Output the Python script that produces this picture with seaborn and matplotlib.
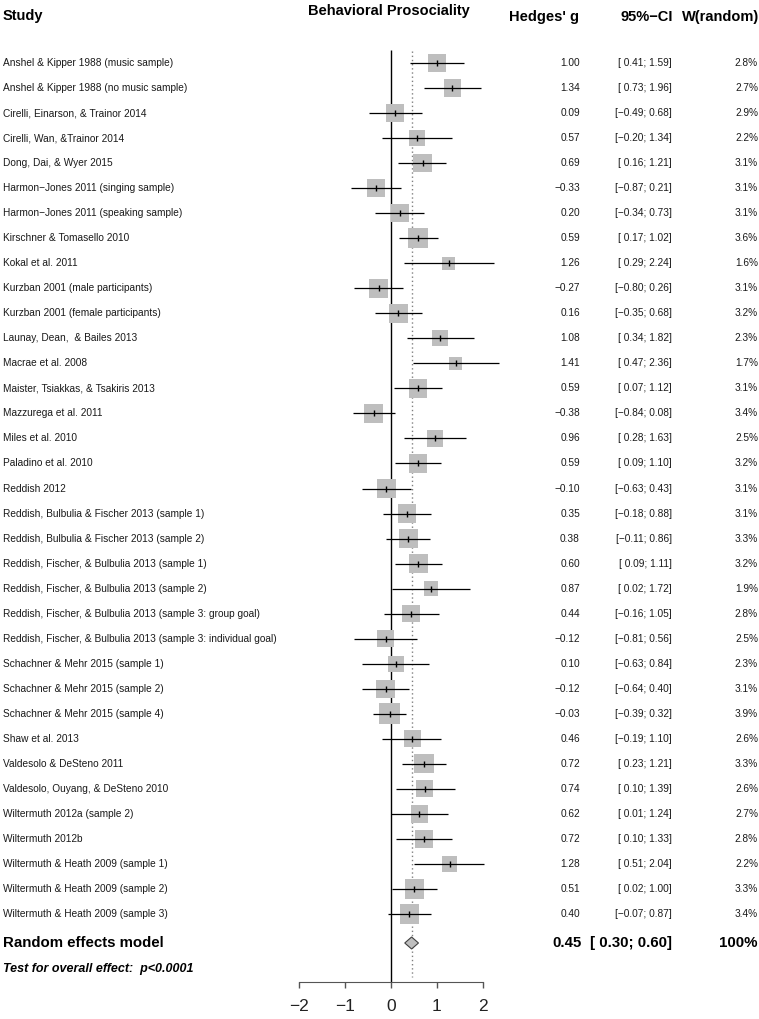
import matplotlib
matplotlib.use("Agg")
import matplotlib.pyplot as plt
import matplotlib.transforms as mtransforms
import seaborn as sns
import numpy as np
import pandas as pd

studies = [
    "Anshel & Kipper 1988 (music sample)",
    "Anshel & Kipper 1988 (no music sample)",
    "Cirelli, Einarson, & Trainor 2014",
    "Cirelli, Wan, &Trainor 2014",
    "Dong, Dai, & Wyer 2015",
    "Harmon-Jones 2011 (singing sample)",
    "Harmon-Jones 2011 (speaking sample)",
    "Kirschner & Tomasello 2010",
    "Kokal et al. 2011",
    "Kurzban 2001 (male participants)",
    "Kurzban 2001 (female participants)",
    "Launay, Dean,  & Bailes 2013",
    "Macrae et al. 2008",
    "Maister, Tsiakkas, & Tsakiris 2013",
    "Mazzurega et al. 2011",
    "Miles et al. 2010",
    "Paladino et al. 2010",
    "Reddish 2012",
    "Reddish, Bulbulia & Fischer 2013 (sample 1)",
    "Reddish, Bulbulia & Fischer 2013 (sample 2)",
    "Reddish, Fischer, & Bulbulia 2013 (sample 1)",
    "Reddish, Fischer, & Bulbulia 2013 (sample 2)",
    "Reddish, Fischer, & Bulbulia 2013 (sample 3: group goal)",
    "Reddish, Fischer, & Bulbulia 2013 (sample 3: individual goal)",
    "Schachner & Mehr 2015 (sample 1)",
    "Schachner & Mehr 2015 (sample 2)",
    "Schachner & Mehr 2015 (sample 4)",
    "Shaw et al. 2013",
    "Valdesolo & DeSteno 2011",
    "Valdesolo, Ouyang, & DeSteno 2010",
    "Wiltermuth 2012a (sample 2)",
    "Wiltermuth 2012b",
    "Wiltermuth & Heath 2009 (sample 1)",
    "Wiltermuth & Heath 2009 (sample 2)",
    "Wiltermuth & Heath 2009 (sample 3)",
]
hedges_g = [1.00, 1.34, 0.09, 0.57, 0.69, -0.33, 0.20, 0.59, 1.26, -0.27, 0.16, 1.08,
            1.41, 0.59, -0.38, 0.96, 0.59, -0.10, 0.35, 0.38, 0.60, 0.87, 0.44, -0.12,
            0.10, -0.12, -0.03, 0.46, 0.72, 0.74, 0.62, 0.72, 1.28, 0.51, 0.40]
ci_lower = [0.41, 0.73, -0.49, -0.20, 0.16, -0.87, -0.34, 0.17, 0.29, -0.80, -0.35, 0.34,
            0.47, 0.07, -0.84, 0.28, 0.09, -0.63, -0.18, -0.11, 0.09, 0.02, -0.16, -0.81,
            -0.63, -0.64, -0.39, -0.19, 0.23, 0.10, 0.01, 0.10, 0.51, 0.02, -0.07]
ci_upper = [1.59, 1.96, 0.68, 1.34, 1.21, 0.21, 0.73, 1.02, 2.24, 0.26, 0.68, 1.82,
            2.36, 1.12, 0.08, 1.63, 1.10, 0.43, 0.88, 0.86, 1.11, 1.72, 1.05, 0.56,
            0.84, 0.40, 0.32, 1.10, 1.21, 1.39, 1.24, 1.33, 2.04, 1.00, 0.87]
weight = [2.8, 2.7, 2.9, 2.2, 3.1, 3.1, 3.1, 3.6, 1.6, 3.1, 3.2, 2.3, 1.7, 3.1, 3.4, 2.5,
          3.2, 3.1, 3.1, 3.3, 3.2, 1.9, 2.8, 2.5, 2.3, 3.1, 3.9, 2.6, 3.3, 2.6, 2.7, 2.8,
          2.2, 3.3, 3.4]
summary_g = 0.45
summary_lower = 0.30
summary_upper = 0.60
xticks = [-2, -1, 0, 1, 2]

def m(s):
    return s.replace("-", "\u2212")

df = pd.DataFrame({"study": studies, "g": hedges_g, "lo": ci_lower, "hi": ci_upper,
                   "w": weight})
df["row"] = np.arange(len(df))

W, H = 759, 1019
fig = plt.figure(figsize=(W / 100, H / 100), dpi=100)
plt.rcParams["font.family"] = ["Liberation Sans", "DejaVu Sans"]

PX_ZERO = 391.0
PX_UNIT = 45.8
ROW0 = 63.0
ROWSTEP = 25.03
AX_TOP, AX_BOT = 40, 982
AX_L, AX_R = 280, 500

ax = fig.add_axes([AX_L / W, 1 - AX_BOT / H, (AX_R - AX_L) / W, (AX_BOT - AX_TOP) / H])
ax.set_xlim((AX_L - PX_ZERO) / PX_UNIT, (AX_R - PX_ZERO) / PX_UNIT)
ylo = (AX_BOT - ROW0) / ROWSTEP
yhi = (AX_TOP - ROW0) / ROWSTEP
ax.set_ylim(ylo, yhi)

def prow(py):
    return (py - ROW0) / ROWSTEP

# reference lines
ax.vlines(0, prow(50), ylo, color="black", lw=1.0, zorder=1)
ax.vlines(summary_g, prow(51), prow(977), color="#808080", lw=1.0,
          linestyles=(0, (1, 2)), zorder=1)

# squares (area proportional to weight)
k = 57.2
sns.scatterplot(data=df, x="g", y="row", size="w",
                sizes=(k * df["w"].min(), k * df["w"].max()),
                marker="s", color="#BEBEBE", linewidth=0, legend=False, ax=ax, zorder=2)
ax.hlines(df["row"], df["lo"], df["hi"], color="black", lw=0.9, zorder=3)
ax.scatter(df["g"], df["row"], marker="|", s=20, color="black", linewidths=1.0, zorder=4)

# summary diamond
srow = prow(943)
hh = 6 / ROWSTEP
ax.fill([summary_lower, summary_g, summary_upper, summary_g],
        [srow, srow - hh, srow, srow + hh], facecolor="#BEBEBE", edgecolor="#404040",
        lw=0.8, zorder=3)

for s in ["left", "top", "right"]:
    ax.spines[s].set_visible(False)
ax.spines["bottom"].set_bounds(-2, 2)
ax.spines["bottom"].set_color("#555555")
ax.set_yticks([])
ax.set_xticks(xticks)
ax.set_xticklabels([m(str(t)) for t in xticks])
ax.tick_params(axis="x", direction="out", length=4.3, width=1, color="#555555",
               labelsize=12.5, pad=8, labelcolor="#222222")
ax.set_xlabel("")
ax.set_ylabel("")

tr = mtransforms.blended_transform_factory(fig.transFigure, ax.transData)
def fx(px):
    return px / W

TXT = "#1a1a1a"
HS = 10.5
# headers
ax.text(fx(3), prow(20), "Study", transform=tr, ha="left", va="baseline",
        fontsize=HS, fontweight="bold", clip_on=False)
ax.text(fx(389), prow(15), "Behavioral Prosociality", transform=tr, ha="center",
        va="baseline", fontsize=HS, fontweight="bold", clip_on=False)
ax.text(fx(579), prow(21.5), "Hedges' g", transform=tr, ha="right", va="baseline",
        fontsize=HS, fontweight="bold", clip_on=False)
ax.text(fx(673), prow(21.5), m("95%-CI"), transform=tr, ha="right", va="baseline",
        fontsize=HS, fontweight="bold", clip_on=False)
ax.text(fx(759), prow(21.5), "W(random)", transform=tr, ha="right", va="baseline",
        fontsize=HS, fontweight="bold", clip_on=False)

RS = 7.3
for _, r in df.iterrows():
    ax.text(fx(3), r["row"], m(r["study"]), transform=tr, ha="left", va="center",
            fontsize=RS, color=TXT, clip_on=False)
    ax.text(fx(580), r["row"], m(f"{r['g']:.2f}"), transform=tr, ha="right",
            va="center", fontsize=RS, color=TXT, clip_on=False)
    ax.text(fx(672), r["row"], m(f"[{r['lo']:5.2f};{r['hi']:5.2f}]"), transform=tr,
            ha="right", va="center", fontsize=RS, color=TXT, clip_on=False)
    ax.text(fx(758), r["row"], f"{r['w']:.1f}%", transform=tr, ha="right",
            va="center", fontsize=RS, color=TXT, clip_on=False)

ax.text(fx(3), srow, "Random effects model", transform=tr, ha="left", va="center",
        fontsize=10.8, fontweight="bold", clip_on=False)
ax.text(fx(582), srow, f"{summary_g:.2f}", transform=tr, ha="right", va="center",
        fontsize=10.8, fontweight="bold", clip_on=False)
ax.text(fx(672), srow, m(f"[{summary_lower:5.2f};{summary_upper:5.2f}]"), transform=tr,
        ha="right", va="center", fontsize=10.8, fontweight="bold", clip_on=False)
ax.text(fx(758), srow, "100%", transform=tr, ha="right", va="center",
        fontsize=10.8, fontweight="bold", clip_on=False)
ax.text(fx(3), prow(969), "Test for overall effect:  p<0.0001", transform=tr,
        ha="left", va="center", fontsize=9, fontweight="bold", fontstyle="italic",
        clip_on=False)

fig.savefig("out.png", dpi=100)
